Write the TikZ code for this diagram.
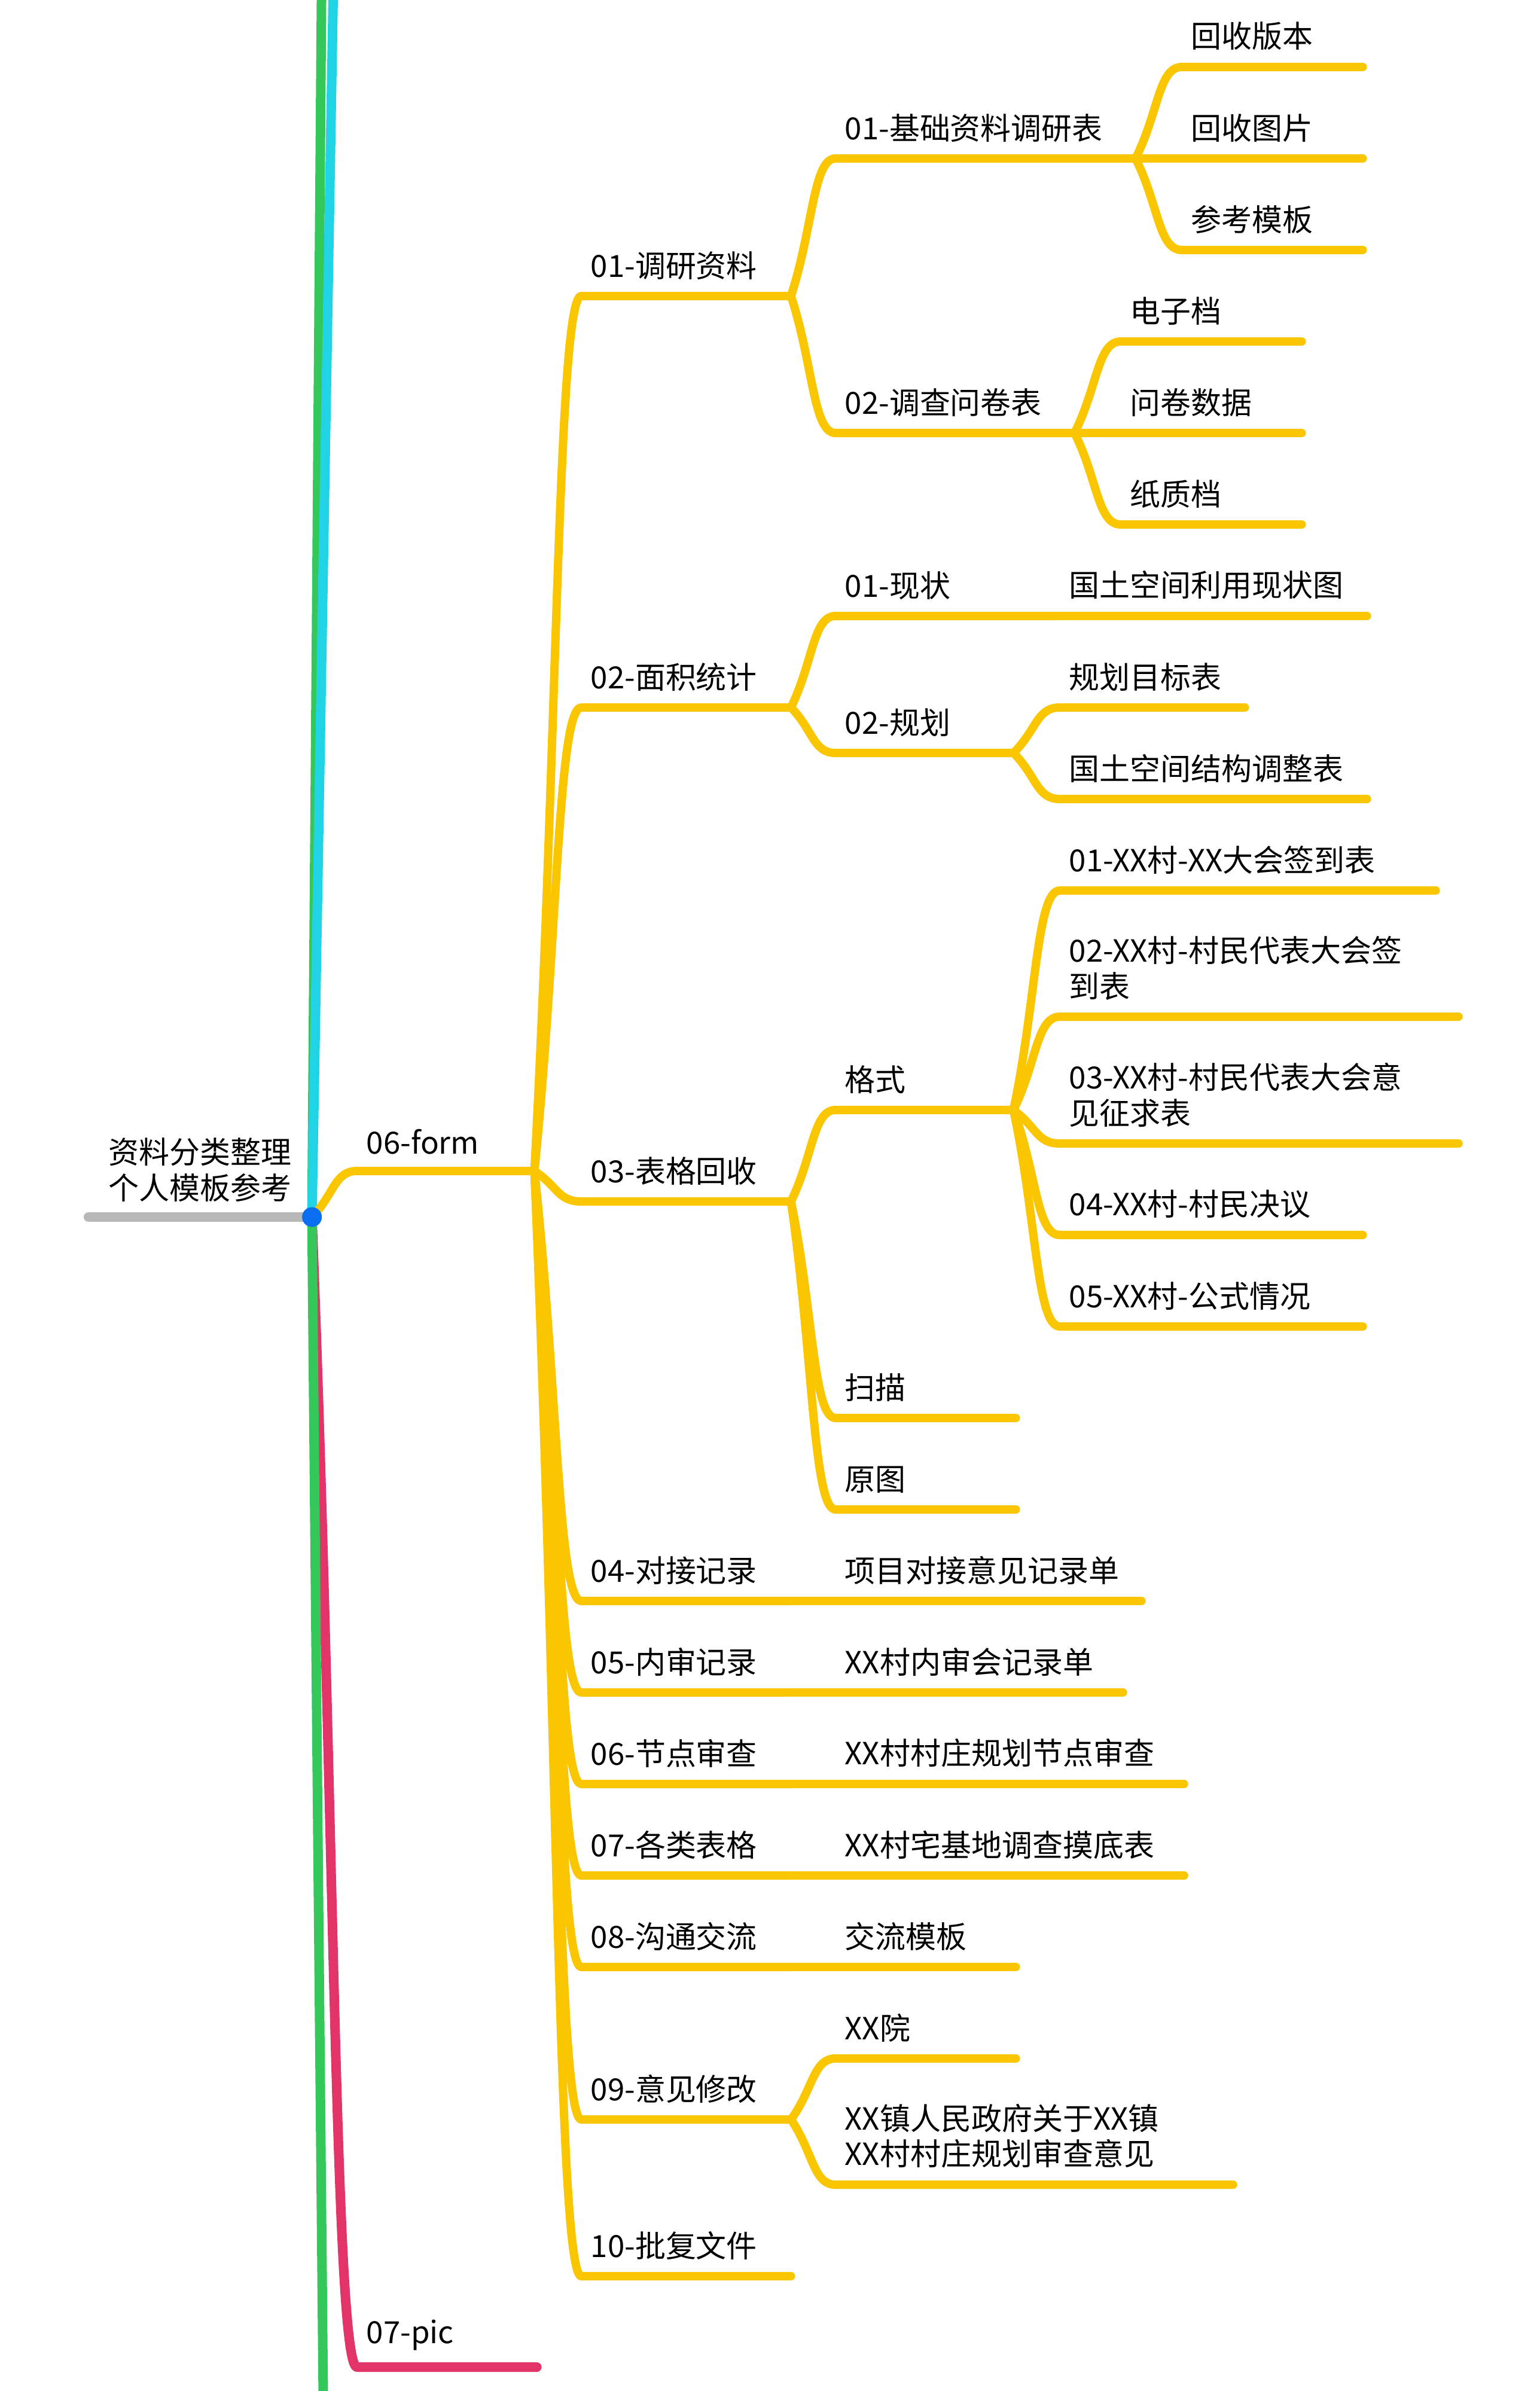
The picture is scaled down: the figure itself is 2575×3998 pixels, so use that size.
\documentclass[tikz,border=0pt]{standalone}
\usepackage{fontspec}
\newfontfamily\cjk{Noto Sans CJK SC}
\usetikzlibrary{calc}
\definecolor{branchyellow}{RGB}{250,198,0}
\definecolor{cyanline}{RGB}{32,212,230}
\definecolor{greenline}{RGB}{52,199,89}
\definecolor{redline}{RGB}{226,52,104}
\definecolor{grayline}{RGB}{184,184,184}
\definecolor{hubblue}{RGB}{10,110,240}

\begin{document}
\begin{tikzpicture}[
  x=0.01cm, y=-0.01cm,
  every node/.style={font=\cjk\fontsize{14.5}{17}\selectfont},
  rootbox/.style={anchor=south west, minimum width=3.72cm, inner ysep=0.25cm, align=center},
  topicbox/.style={anchor=south west, inner xsep=0.15cm, inner ysep=0.27cm, align=left, text width=#1},
  hubdot/.style={circle, fill=hubblue, minimum size=0.33cm, inner sep=0pt},
  mainline/.style={line width=0.16cm, line cap=round, line join=round},
  branchline/.style={line width=0.14cm, line cap=round, line join=round, draw=branchyellow},
  forkcurve/.style={to path={.. controls ($(\tikztostart)!0.5!(\tikztotarget)$) and ($(\tikztotarget)!0.5!(\tikztostart|-\tikztotarget)$) .. (\tikztotarget) \tikztonodes}}
]
\useasboundingbox (0,0) rectangle (2575,3998);
\clip (0,0) rectangle (2575,3998);

\node[rootbox] (root) at (148,2035) {资料分类整理\\个人模板参考};
\coordinate (hub) at (root.south east);
\coordinate (up1) at (558,-60);
\coordinate (up2) at (538,-60);
\coordinate (down1) at (541,4060);

\node[topicbox=2.65cm] (form) at (597,1958) {06-form};
\node[topicbox=2.69cm] (pic) at (597,3958) {07-pic};

\node[topicbox=3.19cm] (dy) at (972,495) {01-调研资料};
\node[topicbox=3.19cm] (mj) at (972,1183) {02-面积统计};
\node[topicbox=3.19cm] (bg) at (972,2009) {03-表格回收};
\node[topicbox=3.19cm] (dj) at (972,2677) {04-对接记录};
\node[topicbox=3.19cm] (ns) at (972,2830) {05-内审记录};
\node[topicbox=3.19cm] (jd) at (972,2983) {06-节点审查};
\node[topicbox=3.19cm] (gl) at (972,3136) {07-各类表格};
\node[topicbox=3.19cm] (gt) at (972,3289) {08-沟通交流};
\node[topicbox=3.19cm] (yj) at (972,3544) {09-意见修改};
\node[topicbox=3.19cm] (pf) at (972,3806) {10-批复文件};

\node[topicbox=4.70cm] (jc) at (1397,265) {01-基础资料调研表};
\node[topicbox=3.68cm] (wj) at (1397,724) {02-调查问卷表};
\node[topicbox=3.45cm] (xz) at (1397,1030) {01-现状};
\node[topicbox=2.66cm] (gh) at (1397,1259) {02-规划};
\node[topicbox=2.66cm] (gs) at (1397,1856) {格式};
\node[topicbox=2.70cm] (sm) at (1397,2371) {扫描};
\node[topicbox=2.70cm] (yt) at (1397,2524) {原图};
\node[topicbox=4.80cm] (djd) at (1397,2677) {项目对接意见记录单};
\node[topicbox=4.49cm] (nsd) at (1397,2830) {XX村内审会记录单};
\node[topicbox=5.51cm] (jdd) at (1397,2983) {XX村村庄规划节点审查};
\node[topicbox=5.51cm] (gld) at (1397,3136) {XX村宅基地调查摸底表};
\node[topicbox=2.70cm] (gtd) at (1397,3289) {交流模板};
\node[topicbox=2.70cm] (yy) at (1397,3442) {XX院};
\node[topicbox=6.33cm] (yz) at (1397,3653) {XX镇人民政府关于XX镇\\XX村村庄规划审查意见};

\node[topicbox=2.71cm] (bb) at (1976,112) {回收版本};
\node[topicbox=2.71cm] (tp) at (1976,265) {回收图片};
\node[topicbox=2.71cm] (mb) at (1976,418) {参考模板};
\node[topicbox=2.71cm] (dz) at (1874,571) {电子档};
\node[topicbox=2.71cm] (sj) at (1874,724) {问卷数据};
\node[topicbox=2.71cm] (zz) at (1874,877) {纸质档};
\node[topicbox=4.82cm] (xzt) at (1772,1030) {国土空间利用现状图};
\node[topicbox=2.78cm] (mbb) at (1772,1183) {规划目标表};
\node[topicbox=4.82cm] (jgt) at (1772,1336) {国土空间结构调整表};
\node[topicbox=5.97cm] (q1) at (1772,1489) {01-XX村-XX大会签到表};
\node[topicbox=6.35cm] (q2) at (1772,1700) {02-XX村-村民代表大会签\\到表};
\node[topicbox=6.35cm] (q3) at (1772,1912) {03-XX村-村民代表大会意\\见征求表};
\node[topicbox=4.75cm] (q4) at (1772,2065) {04-XX村-村民决议};
\node[topicbox=4.75cm] (q5) at (1772,2218) {05-XX村-公式情况};

\draw[mainline, draw=redline] (hub) to[forkcurve] (pic.south west) -- (pic.south east);
\draw[mainline, draw=greenline] (down1) -- (hub) -- (up2);
\draw[mainline, draw=cyanline] (hub) -- (up1);
\draw[mainline, draw=grayline] (root.south west) -- (hub);
\draw[branchline] (hub) to[forkcurve] (form.south west) -- (form.south east);
\foreach \p/\c in {form/dy,form/mj,form/bg,form/dj,form/ns,form/jd,form/gl,form/gt,form/yj,form/pf,
    dy/jc,dy/wj,jc/bb,jc/tp,jc/mb,wj/dz,wj/sj,wj/zz,
    mj/xz,mj/gh,xz/xzt,gh/mbb,gh/jgt,
    bg/gs,bg/sm,bg/yt,gs/q1,gs/q2,gs/q3,gs/q4,gs/q5,
    dj/djd,ns/nsd,jd/jdd,gl/gld,gt/gtd,yj/yy,yj/yz}
  \draw[branchline] (\p.south east) to[forkcurve] (\c.south west) -- (\c.south east);
\node[hubdot] (dot) at (hub) {};
\end{tikzpicture}
\end{document}
